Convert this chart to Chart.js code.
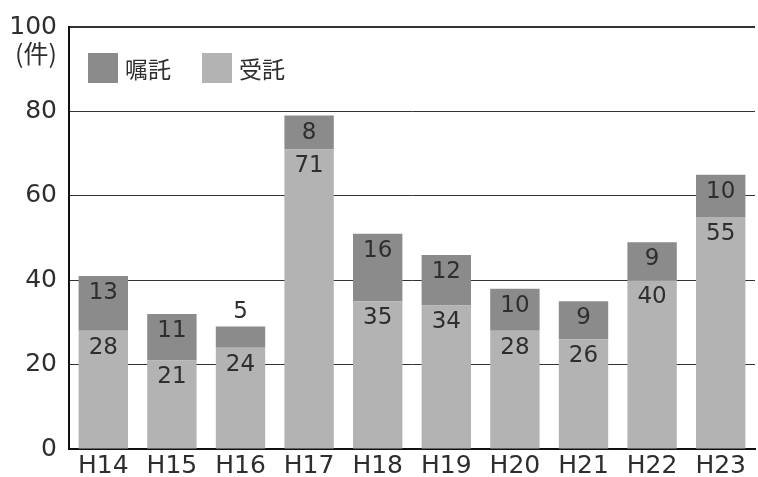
<!DOCTYPE html>
<html>
<head>
<meta charset="utf-8">
<script src="https://cdn.jsdelivr.net/npm/chart.js@4.4.1/dist/chart.umd.min.js"></script>
<style>
  html, body { margin: 0; padding: 0; background: #fff; }
  #wrap { width: 758px; height: 477px; }
</style>
</head>
<body>
<div id="wrap"><canvas id="graph"></canvas></div>
<script>
/* データ */
var categories = ["H14", "H15", "H16", "H17", "H18", "H19", "H20", "H21", "H22", "H23"];
var jutaku = [28, 21, 24, 71, 35, 34, 28, 26, 40, 55];   // 受託
var shokutaku = [13, 11, 5, 8, 16, 12, 10, 9, 9, 10];    // 嘱託
var yTicks = [0, 20, 40, 60, 80, 100];

var NUM_FONT = "'DejaVu Sans', sans-serif";
var JP_FONT = "'Noto Sans CJK JP', sans-serif";
var TEXT = "#2e2e2e";

// ラベルと凡例は自前で描く
var labelPlugin = {
    id: "labels",
    afterDatasetsDraw: function (chart) {
        var ctx = chart.ctx;
        ctx.save();
        ctx.font = "23px " + NUM_FONT;
        ctx.fillStyle = TEXT;
        ctx.textAlign = "center";
        ctx.textBaseline = "middle";
        chart.data.datasets.forEach(function (ds, i) {
            chart.getDatasetMeta(i).data.forEach(function (el, j) {
                var h = el.base - el.y;
                var y = h < 30 ? el.y - 15 : el.y + 17;
                ctx.fillText(String(ds.data[j]), el.x, y);
            });
        });

        // 凡例（左上）
        var left = chart.chartArea.left;
        var top = chart.chartArea.top;
        var items = [chart.data.datasets[1], chart.data.datasets[0]];
        var x = left + 19;
        ctx.textAlign = "left";
        ctx.font = "23px " + JP_FONT;
        items.forEach(function (ds) {
            ctx.fillStyle = ds.backgroundColor;
            ctx.fillRect(x, top + 26, 30, 30);
            ctx.fillStyle = TEXT;
            ctx.fillText(ds.label, x + 37, top + 42);
            x += 114;
        });

        // 単位
        ctx.font = "25px " + JP_FONT;
        ctx.textAlign = "right";
        ctx.fillText("(件)", 57, top + 26);
        ctx.restore();
    }
};

var graph = document.getElementById("graph").getContext("2d");

var myChart = new Chart(graph, {
    type: "bar",
    data: {
        labels: categories,
        datasets: [{
            label: "受託",
            data: jutaku,
            backgroundColor: "#b3b3b3",
        }, {
            label: "嘱託",
            data: shokutaku,
            backgroundColor: "#8b8b8b",
        }],
    },
    options: {
        responsive: true,
        maintainAspectRatio: false,
        animation: false,
        layout: {
            padding: { top: 19, right: 3, left: 0, bottom: 0 },
        },
        datasets: {
            bar: {
                barPercentage: 0.72,
                categoryPercentage: 1,
            },
        },
        scales: {
            x: {
                stacked: true,
                grid: { display: false, drawTicks: false },
                border: { color: "#111", width: 2 },
                ticks: {
                    color: TEXT,
                    font: { family: NUM_FONT, size: 25 },
                    padding: 2,
                },
                afterFit: function (s) { s.height = 28; },
            },
            y: {
                stacked: true,
                min: 0,
                max: 100,
                afterBuildTicks: function (s) {
                    s.ticks = yTicks.map(function (v) { return { value: v }; });
                },
                grid: {
                    drawTicks: false,
                    color: "#333",
                    lineWidth: function (c) { return c.tick && c.tick.value === 100 ? 2 : 1; },
                },
                border: { color: "#111", width: 2 },
                ticks: {
                    color: TEXT,
                    font: { family: NUM_FONT, size: 25 },
                    padding: 12,
                },
                afterFit: function (s) { s.width = 69; },
            },
        },
        plugins: {
            legend: { display: false },
            tooltip: { enabled: false },
        },
    },
    plugins: [labelPlugin],
});
</script>
</body>
</html>
